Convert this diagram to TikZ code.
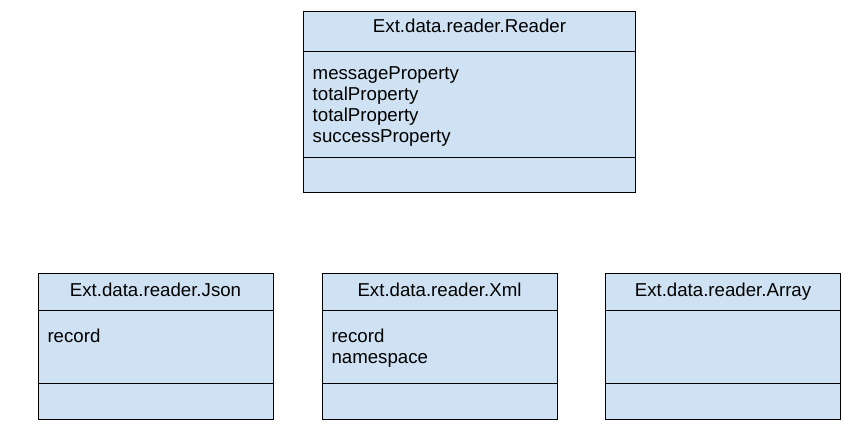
\documentclass[tikz,border=0pt]{standalone}
\usepackage{fontspec}
\setmainfont{Liberation Sans}
\usepackage{xcolor}
\usepackage{tikz}
\usetikzlibrary{positioning}
\definecolor{classblue}{HTML}{CFE2F3}

\tikzset{
  part/.style={draw=black, fill=classblue, line width=0.9pt, inner sep=0pt, outer sep=0pt},
  bigtitle/.style={part, minimum width=332pt, text height=21pt, text depth=18.3pt},
  smalltitle/.style={part, minimum width=235pt, text height=23.5pt, text depth=13.5pt},
  bigpart/.style={part, minimum width=332pt},
  smallpart/.style={part, minimum width=235pt},
  attrs/.style={anchor=north west, inner sep=0pt, align=left},
}

\begin{document}
\begin{tikzpicture}[x=1pt, y=-1pt, font=\fontsize{18.67}{21}\selectfont]
	 \useasboundingbox (0,0) rectangle (867,434);
	 % base class
	 \node[bigtitle, anchor=north] (reader) at (469.5,11.7) {Ext.data.reader.Reader};
	 \node[bigpart, minimum height=106pt] (readerattr) [below=0pt of reader] {};
	 \node[bigpart, minimum height=35pt] (readerops) [below=0pt of readerattr] {};
	 \node[attrs] (readerlist) at ([xshift=9pt, yshift=-15.2pt]readerattr.north west) {messageProperty\\totalProperty\\totalProperty\\successProperty};
	 % subclasses
	 \node[smalltitle, anchor=north] (json) at (155.5,273.3) {Ext.data.reader.Json};
	 \node[smallpart, minimum height=73pt] (jsonattr) [below=0pt of json] {};
	 \node[smallpart, minimum height=36pt] (jsonops) [below=0pt of jsonattr] {};
	 \node[attrs] (jsonlist) at ([xshift=9.3pt, yshift=-18.4pt]jsonattr.north west) {record};
	 \node[smalltitle, anchor=north] (xml) at (439.5,273.3) {Ext.data.reader.Xml};
	 \node[smallpart, minimum height=73pt] (xmlattr) [below=0pt of xml] {};
	 \node[smallpart, minimum height=36pt] (xmlops) [below=0pt of xmlattr] {};
	 \node[attrs] (xmllist) at ([xshift=9.3pt, yshift=-18.4pt]xmlattr.north west) {record\\namespace};
	 \node[smalltitle, anchor=north] (array) at (723,273.3) {Ext.data.reader.Array};
	 \node[smallpart, minimum height=73pt] (arrayattr) [below=0pt of array] {};
	 \node[smallpart, minimum height=36pt] (arrayops) [below=0pt of arrayattr] {};
\end{tikzpicture}
\end{document}
